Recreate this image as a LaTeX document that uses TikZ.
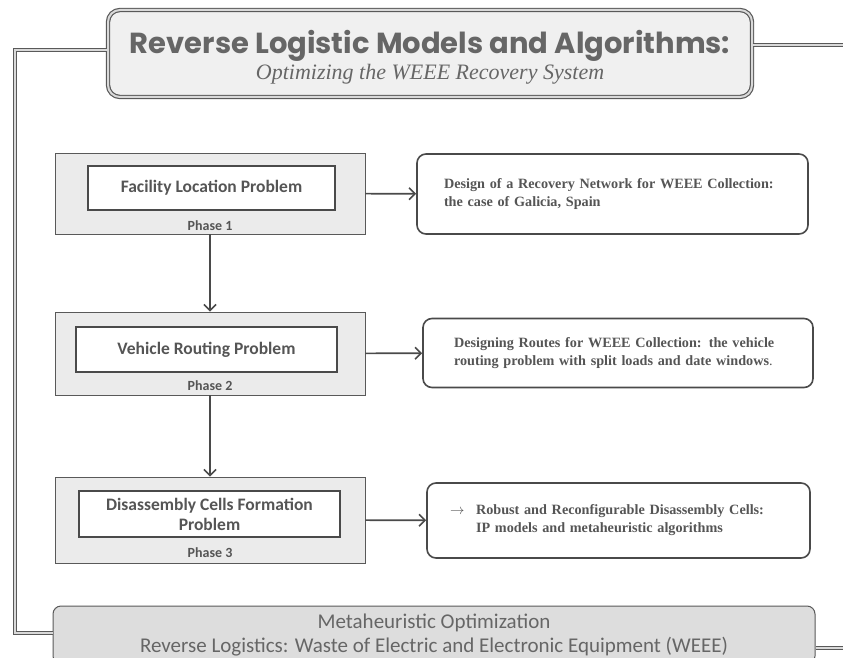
\documentclass[tikz,border=0pt]{standalone}
\usepackage{fontspec}
\setmainfont{Liberation Serif}
\newfontfamily\headfont{Poppins}
\newfontfamily\calfont{Carlito}
\usetikzlibrary{arrows.meta, positioning}
\definecolor{boxline}{HTML}{4A4A4A}
\definecolor{txtgray}{HTML}{555555}
\definecolor{headgray}{HTML}{666666}
\definecolor{panel}{HTML}{EBEBEB}
\definecolor{bandfill}{HTML}{DDDDDD}
\tikzset{
  frameline/.style={draw=gray!70!black, line width=0.9pt, double=gray!30, double distance=1.4pt},
  titlebox/.style={draw=gray!70!black, line width=1.2pt, double=gray!30, double distance=2pt, rounded corners=12pt, fill=gray!12, align=center},
  phase/.style={draw=gray!70!black, line width=0.8pt, fill=panel, inner sep=0pt},
  problem/.style={draw=boxline, line width=1.6pt, fill=white, align=center, text=txtgray,
    font=\calfont\bfseries\fontsize{17.5}{20}\selectfont},
  phaselabel/.style={font=\calfont\bfseries\fontsize{14}{16}\selectfont, text=txtgray},
  paper/.style={draw=boxline, line width=1.6pt, rounded corners=9pt, fill=white, align=left, text=txtgray,
    font=\bfseries\fontsize{14.2}{18}\selectfont},
  band/.style={draw=gray!70!black, line width=1pt, rounded corners=8pt, fill=bandfill, align=center,
    text=headgray, font=\calfont\fontsize{21}{24.5}\selectfont},
  flow/.style={draw=boxline, line width=1.6pt, -{Straight Barb[length=6pt, width=12pt, line width=1.6pt]}},
}

\begin{document}
\begin{tikzpicture}[x=1pt, y=-1pt]
  \useasboundingbox (0,0) rectangle (843,658);
  \clip (0,0) rectangle (843,658);

  % heading and bottom band
  \node[titlebox, minimum width=644pt, minimum height=87pt] (title) at (430,53.5)
    {{\headfont\bfseries\fontsize{29}{32}\selectfont\color{headgray}\rule{0pt}{30pt}Reverse Logistic Models and  Algorithms:}\\[2pt]
     {\itshape\fontsize{22}{26}\selectfont\color{headgray}Optimizing the WEEE Recovery System}};
  \node[band, minimum width=762pt, minimum height=58pt] (band) at (434,635)
    {Metaheuristic Optimization\\Reverse Logistics: Waste of Electric and Electronic Equipment (WEEE)};

  % frame
  \coordinate (tl) at (15,50);
  \coordinate (tr) at (843,45);
  \coordinate (bl) at (15,633);
  \coordinate (br) at (843,648);
  \draw[frameline] (title.west |- tl) -- (tl) -- (bl) -- (band.west |- bl);
  \draw[frameline] (title.east |- tr) -- (tr);
  \draw[frameline] (band.east |- br) -- (br);

  % phases
  \node[phase, minimum width=310pt, minimum height=81pt] (ph1) at (210,193.5) {};
  \node[problem, minimum width=247pt, minimum height=44pt] (flp) at (211.5,188) {Facility Location Problem};
  \node[phaselabel] (lab1) at (210,226) {Phase 1};

  \node[phase, minimum width=310pt, minimum height=83pt] (ph2) at (210,353.5) {};
  \node[problem, minimum width=261pt, minimum height=45pt] (vrp) at (206.5,349.5) {Vehicle Routing Problem};
  \node[phaselabel] (lab2) at (210,386) {Phase 2};

  \node[phase, minimum width=310pt, minimum height=86pt] (ph3) at (210,520) {};
  \node[problem, minimum width=261pt, minimum height=46pt, inner sep=1pt] (dcf) at (209.5,514) {Disassembly Cells Formation\\Problem};
  \node[phaselabel] (lab3) at (210,553) {Phase 3};

  % papers
  \node[paper, text width=337pt, inner xsep=27pt, minimum height=80pt] (pap1) at (612.5,194)
    {Design of a Recovery Network for WEEE Collection:\\the case of Galicia, Spain};
  \node[paper, text width=328pt, inner xsep=31pt, minimum height=69pt] (pap2) at (618,353)
    {Designing Routes for WEEE Collection: the vehicle\\routing problem with split loads and date windows{\mdseries.}};
  \node[paper, text width=337pt, inner xsep=23pt, minimum height=75pt] (pap3) at (618.5,520.5)
    {\makebox[26pt][l]{\mdseries$\rightarrow$}Robust and Reconfigurable Disassembly Cells:\\\hspace*{26pt}IP models and metaheuristic algorithms};

  \draw (ph1) edge[flow] (ph2)
        (ph2) edge[flow] (ph3)
        (ph1) edge[flow] (pap1)
        (ph2) edge[flow] (pap2)
        (ph3) edge[flow] (pap3);
\end{tikzpicture}
\end{document}
